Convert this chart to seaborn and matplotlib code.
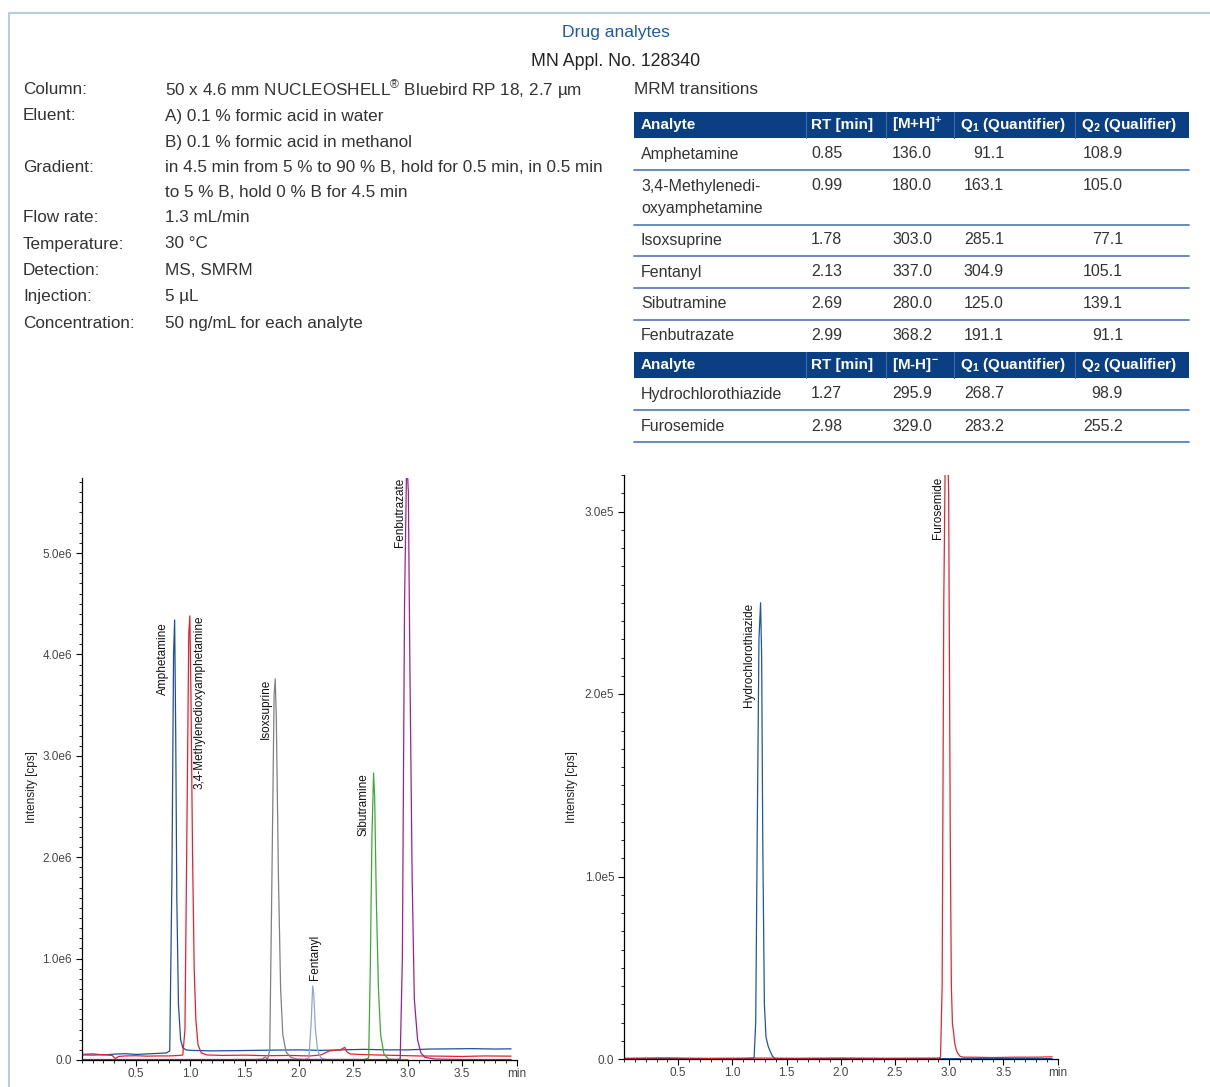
import matplotlib
matplotlib.use("Agg")
import matplotlib.pyplot as plt
import seaborn as sns
from matplotlib.lines import Line2D
from matplotlib.patches import Rectangle
from matplotlib.ticker import MultipleLocator, FixedLocator, FuncFormatter

# ==========================================
# DATA
# ==========================================
# left panel, intensity in 1e6 cps
amph_t = [0.00, 0.10, 0.20, 0.30, 0.40, 0.50, 0.60, 0.70, 0.78, 0.81, 0.83, 0.845, 0.855, 0.865,
          0.875, 0.89, 0.91, 0.93, 0.96, 1.00, 1.20, 1.40, 1.60, 1.80, 2.00, 2.20, 2.40, 2.60,
          2.80, 3.00, 3.20, 3.40, 3.60, 3.80, 3.95]
amph_y = [0.055, 0.060, 0.050, 0.058, 0.062, 0.055, 0.060, 0.065, 0.070, 0.090, 1.80, 4.00, 4.34, 3.20,
          1.60, 0.55, 0.20, 0.12, 0.10, 0.095, 0.090, 0.092, 0.095, 0.098, 0.100, 0.095, 0.100, 0.105,
          0.100, 0.100, 0.108, 0.110, 0.112, 0.108, 0.110]

mda_t = [0.00, 0.10, 0.20, 0.28, 0.31, 0.34, 0.40, 0.50, 0.60, 0.70, 0.80, 0.90, 0.93, 0.95, 0.97,
         0.985, 0.995, 1.005, 1.02, 1.035, 1.05, 1.07, 1.10, 1.15, 1.30, 1.50, 1.70, 1.90, 2.10,
         2.20, 2.28, 2.33, 2.38, 2.42, 2.44, 2.47, 2.55, 2.70, 2.90, 3.10, 3.30, 3.50, 3.70, 3.95]
mda_y = [0.050, 0.048, 0.052, 0.045, 0.015, 0.035, 0.040, 0.042, 0.038, 0.040, 0.040, 0.045, 0.050,
         0.30, 2.50, 4.20, 4.38, 3.60, 2.00, 0.90, 0.40, 0.15, 0.07, 0.050, 0.045, 0.048, 0.042,
         0.045, 0.040, 0.050, 0.090, 0.095, 0.100, 0.125, 0.080, 0.060, 0.055, 0.050, 0.045, 0.040,
         0.038, 0.035, 0.040, 0.038]

isox_t = [1.40, 1.60, 1.66, 1.69, 1.71, 1.73, 1.75, 1.77, 1.78, 1.79, 1.81, 1.83, 1.85, 1.88, 1.92,
          1.97, 2.05, 2.20]
isox_y = [0.005, 0.005, 0.010, 0.030, 0.005, 0.10, 1.80, 3.60, 3.76, 3.40, 1.80, 0.70, 0.25, 0.08,
          0.03, 0.01, 0.005, 0.005]

fent_t = [1.90, 2.05, 2.09, 2.11, 2.125, 2.135, 2.15, 2.17, 2.20, 2.25, 2.40]
fent_y = [0.005, 0.005, 0.02, 0.35, 0.73, 0.65, 0.30, 0.10, 0.02, 0.005, 0.005]

sibu_t = [2.40, 2.60, 2.64, 2.655, 2.67, 2.685, 2.695, 2.71, 2.73, 2.75, 2.78, 2.82, 2.90, 3.00]
sibu_y = [0.005, 0.005, 0.02, 0.90, 2.20, 2.83, 2.60, 1.60, 0.70, 0.25, 0.06, 0.01, 0.005, 0.005]

fenb_t = [0.00, 0.50, 1.00, 1.50, 2.00, 2.50, 2.90, 2.93, 2.95, 2.97, 2.99, 3.005, 3.02, 3.04, 3.06,
          3.09, 3.12, 3.16, 3.25, 3.50, 3.95]
fenb_y = [0.005, 0.005, 0.005, 0.005, 0.005, 0.005, 0.005, 0.01, 1.00, 4.50, 5.95, 5.60, 3.80, 1.80,
          0.60, 0.20, 0.07, 0.025, 0.01, 0.005, 0.005]

# right panel, intensity in 1e5 cps
hctz_t = [0.00, 0.30, 0.60, 0.90, 1.10, 1.20, 1.215, 1.23, 1.245, 1.26, 1.27, 1.28, 1.295, 1.31,
          1.33, 1.35, 1.37, 1.39, 1.42, 1.60, 2.00, 2.50, 3.00, 3.50, 3.95]
hctz_y = [0.002, 0.003, 0.002, 0.003, 0.002, 0.005, 0.20, 1.30, 2.30, 2.50, 2.20, 1.20, 0.30, 0.12,
          0.07, 0.04, 0.015, 0.003, 0.002, 0.002, 0.003, 0.002, 0.002, 0.003, 0.002]

furo_t = [0.00, 0.40, 0.80, 1.20, 1.60, 2.00, 2.40, 2.80, 2.90, 2.92, 2.935, 2.95, 2.965, 2.98,
          2.995, 3.01, 3.02, 3.03, 3.04, 3.05, 3.065, 3.08, 3.10, 3.13, 3.20, 3.40, 3.60, 3.80, 3.95]
furo_y = [0.004, 0.006, 0.003, 0.005, 0.004, 0.005, 0.004, 0.005, 0.005, 0.01, 0.40, 2.50, 3.40,
          3.50, 3.10, 1.20, 0.40, 0.19, 0.15, 0.09, 0.05, 0.03, 0.015, 0.01, 0.01, 0.008, 0.01,
          0.01, 0.012]

# info block
info_labels = ["Column:", "Eluent:", "", "Gradient:", "", "Flow rate:", "Temperature:",
               "Detection:", "Injection:", "Concentration:"]
info_values = ["50 x 4.6 mm NUCLEOSHELL$^{®}$ Bluebird RP 18, 2.7 µm",
               "A) 0.1 % formic acid in water",
               "B) 0.1 % formic acid in methanol",
               "in 4.5 min from 5 % to 90 % B, hold for 0.5 min, in 0.5 min",
               "to 5 % B, hold 0 % B for 4.5 min",
               "1.3 mL/min", "30 °C", "MS, SMRM", "5 µL", "50 ng/mL for each analyte"]

# MRM table
pos_analytes = ["Amphetamine", "3,4-Methylenedi-\noxyamphetamine", "Isoxsuprine", "Fentanyl",
                "Sibutramine", "Fenbutrazate"]
pos_rt = ["0.85", "0.99", "1.78", "2.13", "2.69", "2.99"]
pos_mh = ["136.0", "180.0", "303.0", "337.0", "280.0", "368.2"]
pos_q1 = ["91.1", "163.1", "285.1", "304.9", "125.0", "191.1"]
pos_q2 = ["108.9", "105.0", "77.1", "105.1", "139.1", "91.1"]
neg_analytes = ["Hydrochlorothiazide", "Furosemide"]
neg_rt = ["1.27", "2.98"]
neg_mh = ["295.9", "329.0"]
neg_q1 = ["268.7", "283.2"]
neg_q2 = ["98.9", "255.2"]

# ==========================================
W, H = 1210, 1087
TXT = "#333333"
NAVY = "#0b3f83"
LINE_BLUE = "#5b82bd"
INFO_FS = 12.3
TABLE_FS = 11.5
SMALL_FS = 8.5

sns.set_style("ticks")
plt.rcParams['font.family'] = ['Liberation Sans', 'DejaVu Sans']
plt.rcParams['mathtext.fontset'] = 'custom'
plt.rcParams['mathtext.rm'] = 'Liberation Sans'
plt.rcParams['mathtext.it'] = 'Liberation Sans'
plt.rcParams['mathtext.bf'] = 'Liberation Sans:bold'
plt.rcParams['mathtext.default'] = 'regular'

fig = plt.figure(figsize=(W / 100, H / 100), dpi=100)


def fx(x):
    return x / W


def fy(y):
    return 1 - y / H


def ptext(x, y, s, **kw):
    kw.setdefault("fontsize", INFO_FS)
    kw.setdefault("color", TXT)
    kw.setdefault("va", "center")
    fig.text(fx(x), fy(y), s, **kw)


# frame
fig.add_artist(Line2D([fx(9), fx(1210)], [fy(13), fy(13)], color="#b9cbe4", lw=1.5))
fig.add_artist(Line2D([fx(9), fx(9)], [fy(13), fy(1087)], color="#b9cbe4", lw=1.5))

ptext(616, 33, "Drug analytes", ha="center", color="#1d5aa6", fontsize=12.6)
ptext(616, 62, "MN Appl. No. 128340", ha="center", color="#222222", fontsize=12.8)

info_y = [90, 116, 143, 168, 192, 218, 244, 271, 297, 323]
for lab, val, yy in zip(info_labels, info_values, info_y):
    if lab:
        ptext(23, yy, lab)
    ptext(165, yy, val)

ptext(634, 90, "MRM transitions")

# table
tx0, tx1 = 634, 1189
col_x = [641, 811, 892, 960, 1081]
q1_right, q2_right = 1004, 1123
seps = [806, 886, 954, 1075]


def header(y0, y1, ion):
    fig.add_artist(Rectangle((fx(tx0), fy(y1)), fx(tx1) - fx(tx0), fy(y0) - fy(y1),
                             transform=fig.transFigure, color=NAVY, lw=0))
    for sx in seps:
        fig.add_artist(Line2D([fx(sx), fx(sx)], [fy(y0), fy(y1)], color="#3e6aa8", lw=0.8))
    yc = (y0 + y1) / 2
    for x, s in zip(col_x, ["Analyte", "RT [min]", ion, "Q$_1$ (Quantifier)", "Q$_2$ (Qualifier)"]):
        ptext(x, yc, s, color="white", fontsize=11.0, fontweight="bold")


def row_line(y):
    fig.add_artist(Line2D([fx(tx0), fx(tx1)], [fy(y), fy(y)], color=LINE_BLUE, lw=1.3))


header(112, 138, "[M+H]$^{\\mathbf{+}}$")
pos_text_y = [154, 186, 240, 272, 304, 336]
pos_sep_y = [170, 225, 256, 288, 320]
for i in range(len(pos_analytes)):
    yy = pos_text_y[i]
    name = pos_analytes[i]
    if "\n" in name:
        a, b = name.split("\n")
        ptext(col_x[0], yy, a, fontsize=TABLE_FS)
        ptext(col_x[0], yy + 22, b, fontsize=TABLE_FS)
    else:
        ptext(col_x[0], yy, name, fontsize=TABLE_FS)
    ptext(col_x[1], yy, pos_rt[i], fontsize=TABLE_FS)
    ptext(col_x[2], yy, pos_mh[i], fontsize=TABLE_FS)
    ptext(q1_right, yy, pos_q1[i], ha="right", fontsize=TABLE_FS)
    ptext(q2_right, yy, pos_q2[i], ha="right", fontsize=TABLE_FS)
for yy in pos_sep_y:
    row_line(yy)

header(352, 378, "[M-H]$^{\\mathbf{-}}$")
neg_text_y = [394, 426]
for i in range(len(neg_analytes)):
    yy = neg_text_y[i]
    ptext(col_x[0], yy, neg_analytes[i], fontsize=TABLE_FS)
    ptext(col_x[1], yy, neg_rt[i], fontsize=TABLE_FS)
    ptext(col_x[2], yy, neg_mh[i], fontsize=TABLE_FS)
    ptext(q1_right, yy, neg_q1[i], ha="right", fontsize=TABLE_FS)
    ptext(q2_right, yy, neg_q2[i], ha="right", fontsize=TABLE_FS)
row_line(410)
row_line(442)

# ==========================================
# CHROMATOGRAMS
# ==========================================
axL = fig.add_axes([fx(81.7), fy(1060), (516.5 - 81.7) / W, (1060 - 478) / H])
axR = fig.add_axes([fx(624), fy(1059), (1057.6 - 624) / W, (1059 - 475) / H])

traces_left = [
    (amph_t, amph_y, "#1f4e9e"),
    (mda_t, mda_y, "#e8202a"),
    (isox_t, isox_y, "#808080"),
    (fent_t, fent_y, "#8ea6d8"),
    (sibu_t, sibu_y, "#3aaa35"),
    (fenb_t, fenb_y, "#a0208f"),
]
for t, y, c in traces_left:
    sns.lineplot(x=t, y=y, ax=axL, color=c, lw=0.9, estimator=None, sort=False)

traces_right = [
    (hctz_t, hctz_y, "#1f56a8"),
    (furo_t, furo_y, "#e3262f"),
]
for t, y, c in traces_right:
    sns.lineplot(x=t, y=y, ax=axR, color=c, lw=0.9, estimator=None, sort=False)

axL.set_ylim(0, 5.74)
axR.set_ylim(0, 3.2)


def style_axis(ax, exp, label_x, label_y):
    ax.set_xlim(0, 4.0)
    ax.set_facecolor("none")
    for s in ["top", "right"]:
        ax.spines[s].set_visible(False)
    for s in ["left", "bottom"]:
        ax.spines[s].set_color("black")
        ax.spines[s].set_linewidth(0.9)
    ax.xaxis.set_major_locator(FixedLocator([0.5, 1.0, 1.5, 2.0, 2.5, 3.0, 3.5, 4.0]))
    ax.xaxis.set_major_formatter(FuncFormatter(lambda v, p: "min" if v > 3.9 else f"{v:.1f}"))
    ax.xaxis.set_minor_locator(MultipleLocator(0.1))
    ax.yaxis.set_major_locator(MultipleLocator(1.0))
    ax.yaxis.set_major_formatter(FuncFormatter(lambda v, p: "0.0" if v == 0 else f"{v:.1f}{exp}"))
    ax.yaxis.set_minor_locator(MultipleLocator(0.1))
    ax.tick_params(which="major", length=4, width=0.8, color="black", labelsize=SMALL_FS,
                   labelcolor="#444444", pad=3)
    ax.tick_params(axis="x", which="major", pad=1.5)
    ax.tick_params(which="minor", length=2, width=0.6, color="black")
    ax.set_xlabel("")
    ax.set_ylabel("Intensity [cps]", fontsize=SMALL_FS, color="#222222")
    ax.yaxis.set_label_coords(label_x, label_y)


style_axis(axL, "e6", (38 - 81.7) / 434.8, (1060 - 787) / 582)
style_axis(axR, "e5", (578 - 624) / 433.6, (1059 - 787) / 584)

# peak labels
lab_kw = dict(rotation=90, fontsize=SMALL_FS, color="#111111", textcoords="offset pixels",
              annotation_clip=False)
axL.annotate("Amphetamine", xy=(0.855, 4.34), xytext=(-12, -2), ha="center", va="top", **lab_kw)
axL.annotate("3,4-Methylenedioxyamphetamine", xy=(0.995, 4.38), xytext=(10, 0), ha="center",
             va="top", **lab_kw)
axL.annotate("Isoxsuprine", xy=(1.78, 3.76), xytext=(-9, 0), ha="center", va="top", **lab_kw)
axL.annotate("Fentanyl", xy=(2.125, 0.73), xytext=(2, 6), ha="center", va="bottom", **lab_kw)
axL.annotate("Sibutramine", xy=(2.685, 2.83), xytext=(-10, 0), ha="center", va="top", **lab_kw)
axL.annotate("Fenbutrazate", xy=(2.99, 5.74), xytext=(-7, 0), ha="center", va="top", **lab_kw)
axR.annotate("Hydrochlorothiazide", xy=(1.26, 2.50), xytext=(-12, 0), ha="center", va="top", **lab_kw)
axR.annotate("Furosemide", xy=(2.98, 3.2), xytext=(-9, -2), ha="center", va="top", **lab_kw)

fig.savefig("out.png", dpi=100)
